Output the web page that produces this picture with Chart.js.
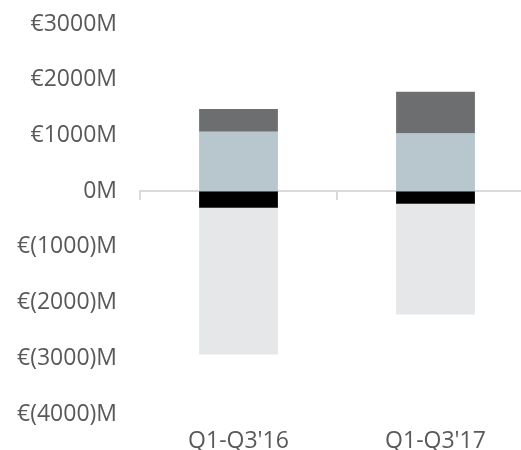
<!DOCTYPE html>
<html>
<head>
<meta charset="utf-8">
<script src="https://cdn.jsdelivr.net/npm/chart.js@4.4.0/dist/chart.umd.min.js"></script>
<style>
  html,body{margin:0;padding:0;background:#fff;overflow:hidden;}
  #wrap{width:540px;height:450px;}
</style>
</head>
<body>
<div id="wrap"><canvas id="barChart" width="540" height="450"></canvas></div>
<script>
const categories=["Q1-Q3'16","Q1-Q3'17"];
const otherIncome=[1065,1035];
const topIncome=[410,750];
const smallCost=[-300,-228];
const bigCost=[-2630,-1985];
const tickValues=[3000,2000,1000,0,-1000,-2000,-3000,-4000];
const tickLabels=['€3000M','€2000M','€1000M','0M','€(1000)M','€(2000)M','€(3000)M','€(4000)M'];

const textColor='#58595b';
const font={family:'"Open Sans", sans-serif',size:23};

const ctx=document.getElementById('barChart').getContext('2d');
const barchart=new Chart(ctx,{
    type:'bar',
    data:{
        labels:categories,
        datasets:[
            {data:otherIncome,backgroundColor:'#b8c6ce'},
            {data:topIncome,backgroundColor:'#6d6e70'},
            {data:smallCost,backgroundColor:'#000000'},
            {data:bigCost,backgroundColor:'#e6e7e8'}
        ]
    },
    options:{
        responsive:false,
        animation:false,
        devicePixelRatio:1,
        categoryPercentage:1,
        barPercentage:0.4,
        layout:{padding:{top:24,right:6,left:0,bottom:0}},
        plugins:{legend:{display:false},tooltip:{enabled:false}},
        scales:{
            x:{
                stacked:true,
                position:{y:0},
                z:1,
                ticks:{display:false},
                border:{display:true,color:'#dadada',width:2},
                grid:{display:true,drawOnChartArea:false,drawTicks:true,tickLength:8,offset:true,color:'#dadada',lineWidth:2},
                afterFit:s=>{s.height=0;}
            },
            x2:{
                type:'category',
                labels:categories,
                position:'bottom',
                grid:{display:false,drawTicks:false},
                border:{display:false},
                ticks:{color:textColor,font:font,padding:14,maxRotation:0},
                afterFit:s=>{s.height=36;}
            },
            y:{
                stacked:true,
                min:-4000,
                max:3000,
                grid:{display:false,drawTicks:false},
                border:{display:false},
                afterBuildTicks:s=>{s.ticks=tickValues.map(v=>({value:v}));},
                ticks:{
                    color:textColor,
                    font:font,
                    padding:23,
                    callback:v=>tickLabels[tickValues.indexOf(v)]
                },
                afterFit:s=>{s.width=140;s.paddingTop=0;s.paddingBottom=0;}
            }
        }
    }
 });
</script>
</body>
</html>
